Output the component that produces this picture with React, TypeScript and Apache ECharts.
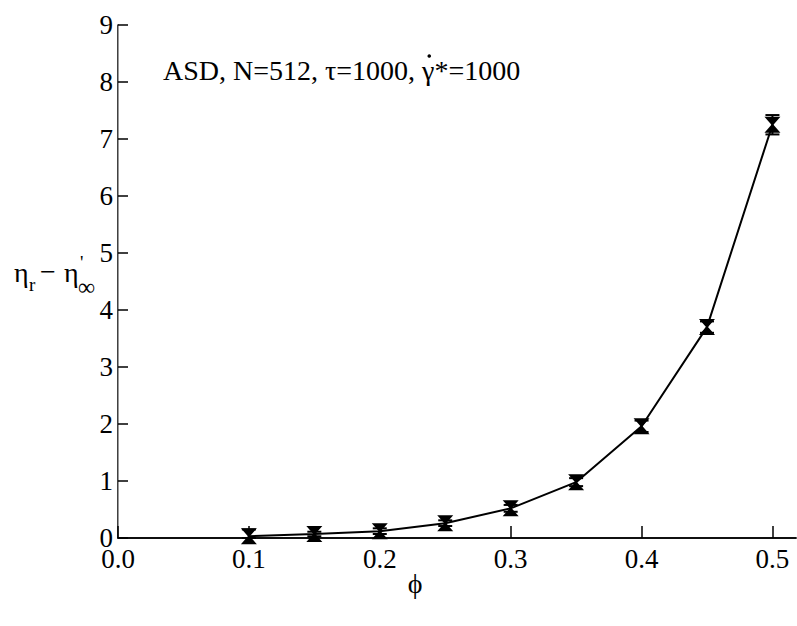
import React, { useEffect, useRef } from "react";
import * as echarts from "echarts";

// Volume fraction (phi) and relative viscosity excess with its error
const phi = [0.1, 0.15, 0.2, 0.25, 0.3, 0.35, 0.4, 0.45, 0.5];
const etaExcess = [0.03, 0.07, 0.12, 0.26, 0.52, 0.98, 1.96, 3.7, 7.25];
const etaError = [0.12, 0.04, 0.05, 0.05, 0.06, 0.07, 0.1, 0.1, 0.17];

const xTicks = [0, 0.1, 0.2, 0.3, 0.4, 0.5];
const yTicks = [0, 1, 2, 3, 4, 5, 6, 7, 8, 9];

const SERIF = "'Liberation Serif', 'Times New Roman', serif";

const noteHead = "ASD, N=512, τ=1000, ";
const noteTail = "γ*=1000";

function textWidth(s: string, font: string): number {
  const ctx = document.createElement("canvas").getContext("2d");
  if (!ctx) return s.length * 12;
  ctx.font = font;
  return ctx.measureText(s).width;
}

export default function App() {
  const ref = useRef<HTMLDivElement>(null);

  useEffect(() => {
    if (!ref.current) return;
    const chart = echarts.init(ref.current, undefined, { renderer: "svg" });

    const points = phi.map((p, i) => [p, etaExcess[i], etaError[i]]);

    const labelStyle = { color: "#000", fontFamily: SERIF, fontSize: 27 };

    const noteFont = `28px ${SERIF}`;
    const noteX = 163;
    const gammaX = noteX + textWidth(noteHead, noteFont);
    const gammaW = textWidth("γ", noteFont);

    chart.setOption({
      animation: false,
      backgroundColor: "#fff",
      grid: { left: 118, top: 25, right: 1, bottom: 88, containLabel: false },
      xAxis: [
        {
          type: "value",
          min: 0,
          max: 0.518,
          interval: 0.1,
          splitLine: { show: false },
          axisLine: { lineStyle: { color: "#000", width: 1.5 } },
          axisTick: {
            inside: true,
            length: 12,
            lineStyle: { color: "#000", width: 1.5 },
            customValues: xTicks,
          },
          axisLabel: {
            ...labelStyle,
            margin: 7,
            customValues: xTicks,
            formatter: (v: number) => v.toFixed(1),
          },
        },
        {
          type: "value",
          position: "top",
          min: 0,
          max: 0.518,
          axisLine: { show: true, lineStyle: { color: "#000", width: 1.5 } },
          axisTick: { show: false },
          axisLabel: { show: false },
          splitLine: { show: false },
        },
      ],
      yAxis: [
        {
          type: "value",
          min: 0,
          max: 9,
          interval: 1,
          splitLine: { show: false },
          axisLine: { show: true, lineStyle: { color: "#000", width: 1.5 } },
          axisTick: {
            inside: true,
            length: 10,
            lineStyle: { color: "#000", width: 1.5 },
            customValues: yTicks,
          },
          axisLabel: { ...labelStyle, margin: 5, customValues: yTicks },
        },
        {
          type: "value",
          position: "right",
          min: 0,
          max: 9,
          axisLine: { show: true, lineStyle: { color: "#999", width: 1 } },
          axisTick: { show: false },
          axisLabel: { show: false },
          splitLine: { show: false },
        },
      ],
      series: [
        {
          type: "line",
          data: points.map((d) => [d[0], d[1]]),
          symbol: "none",
          lineStyle: { color: "#000", width: 2 },
          z: 2,
        },
        {
          type: "custom",
          data: points,
          z: 3,
          renderItem: (params: any, api: any) => {
            const x = api.value(0);
            const y = api.value(1);
            const e = api.value(2);
            const c = api.coord([x, y]);
            const hi = api.coord([x, y + e]);
            const lo = api.coord([x, Math.max(0, y - e)]);
            const cap = 7;
            const h = 8;
            const w = 8;
            const stroke = { stroke: "#000", lineWidth: 2 };
            return {
              type: "group",
              children: [
                {
                  type: "line",
                  shape: { x1: c[0], y1: hi[1], x2: c[0], y2: lo[1] },
                  style: stroke,
                },
                {
                  type: "line",
                  shape: { x1: c[0] - cap, y1: hi[1], x2: c[0] + cap, y2: hi[1] },
                  style: stroke,
                },
                {
                  type: "line",
                  shape: { x1: c[0] - cap, y1: lo[1], x2: c[0] + cap, y2: lo[1] },
                  style: stroke,
                },
                {
                  type: "polygon",
                  shape: {
                    points: [
                      [c[0] - w, c[1] - h],
                      [c[0] + w, c[1] - h],
                      [c[0] + 1, c[1]],
                      [c[0] + w, c[1] + h],
                      [c[0] - w, c[1] + h],
                      [c[0] - 1, c[1]],
                    ],
                  },
                  style: { fill: "#000" },
                },
              ],
            };
          },
        },
      ],
      graphic: [
        {
          type: "text",
          x: noteX,
          y: 56,
          style: { text: noteHead + noteTail, fill: "#000", font: noteFont },
        },
        // dot over gamma (shear rate)
        {
          type: "circle",
          shape: { cx: gammaX + gammaW / 2 + 1, cy: 56, r: 1.8 },
          style: { fill: "#000" },
        },
        // y-axis title: eta_r - eta'_inf
        {
          type: "group",
          children: [
            {
              type: "text",
              x: 14,
              y: 272,
              style: { text: "η", fill: "#000", font: `28px ${SERIF}`, verticalAlign: "middle" },
            },
            {
              type: "text",
              x: 29,
              y: 284,
              style: { text: "r", fill: "#000", font: `19px ${SERIF}`, verticalAlign: "middle" },
            },
            {
              type: "text",
              x: 40,
              y: 271,
              style: { text: "−", fill: "#000", font: `28px ${SERIF}`, verticalAlign: "middle" },
            },
            {
              type: "text",
              x: 64,
              y: 272,
              style: { text: "η", fill: "#000", font: `28px ${SERIF}`, verticalAlign: "middle" },
            },
            {
              type: "text",
              x: 80,
              y: 262,
              style: { text: "'", fill: "#000", font: `19px ${SERIF}`, verticalAlign: "middle" },
            },
            {
              type: "text",
              x: 78,
              y: 287,
              style: { text: "∞", fill: "#000", font: `24px ${SERIF}`, verticalAlign: "middle" },
            },
          ],
        },
        {
          type: "text",
          x: 415,
          y: 583,
          style: {
            text: "ϕ",
            fill: "#000",
            font: `28px ${SERIF}`,
            align: "center",
            verticalAlign: "middle",
          },
        },
      ],
    });

    return () => chart.dispose();
  }, []);

  return (
    <div
      ref={ref}
      style={{ position: "fixed", left: 0, top: 0, width: 797, height: 626, background: "#fff" }}
    />
  );
}
